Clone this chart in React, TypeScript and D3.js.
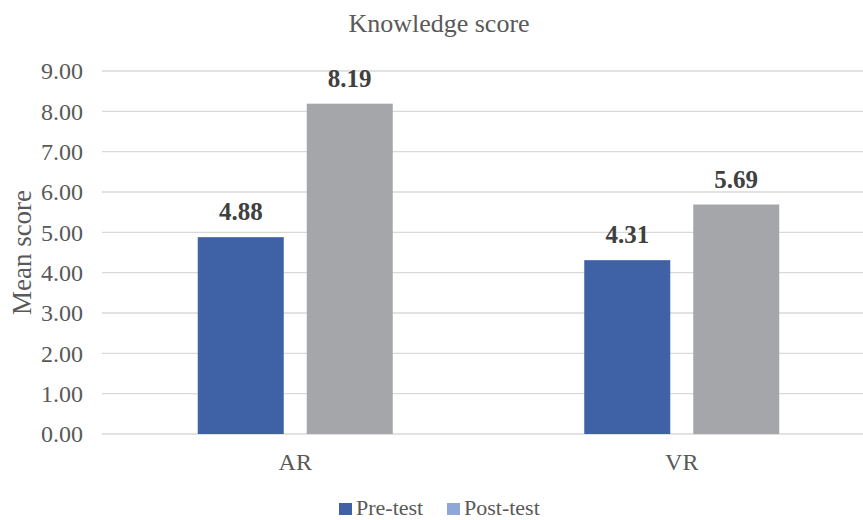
import React, { useEffect, useRef } from 'react';
import * as d3 from 'd3';

const categories = ['AR', 'VR'];
const seriesNames = ['Pre-test', 'Post-test'];
const preTest = [4.88, 4.31];
const postTest = [8.19, 5.69];
const yTicks = [0, 1, 2, 3, 4, 5, 6, 7, 8, 9];

const barColors = ['#3F62A6', '#A5A6AA'];
const legendColors = ['#3F62A6', '#8EA6D8'];

const App: React.FC = () => {
  const ref = useRef<SVGSVGElement>(null);

  useEffect(() => {
    const width = 863;
    const svg = d3.select(ref.current);
    svg.selectAll('*').remove();
    const font = "'Liberation Serif', 'Times New Roman', 'DejaVu Serif', serif";

    const left = 102;
    const top = 71;
    const bottom = 434;

    const data = categories.map((c, i) => ({ cat: c, values: [preTest[i], postTest[i]] }));

    const x0 = d3.scaleBand().domain(categories).range([left, 875]).padding(0);
    const x1 = d3.scaleBand().domain(seriesNames).range([0, 195]).paddingInner(0.211).paddingOuter(0);
    const y = d3.scaleLinear().domain([0, 9]).range([bottom, top]);

    // gridlines
    svg.append('g')
      .selectAll('line')
      .data(yTicks)
      .join('line')
      .attr('x1', left)
      .attr('x2', width)
      .attr('y1', d => y(d))
      .attr('y2', d => y(d))
      .attr('stroke', '#D9D9D9')
      .attr('stroke-width', 1.3);

    // y tick labels
    svg.append('g')
      .selectAll('text')
      .data(yTicks)
      .join('text')
      .attr('x', 83)
      .attr('y', d => y(d))
      .attr('dy', '0.35em')
      .attr('text-anchor', 'end')
      .style('font-family', font)
      .style('font-size', '24px')
      .attr('fill', '#595959')
      .text(d => d.toFixed(2));

    // bars
    const groups = svg.append('g')
      .selectAll('g')
      .data(data)
      .join('g')
      .attr('transform', d => `translate(${(x0(d.cat) || 0) + x0.bandwidth() / 2 - 97.5},0)`);

    groups.selectAll('rect')
      .data(d => d.values.map((v, i) => ({ key: seriesNames[i], v, i })))
      .join('rect')
      .attr('x', d => x1(d.key) || 0)
      .attr('y', d => y(d.v))
      .attr('width', x1.bandwidth())
      .attr('height', d => bottom - y(d.v))
      .attr('fill', d => barColors[d.i]);

    groups.selectAll('text')
      .data(d => d.values.map((v, i) => ({ key: seriesNames[i], v, i })))
      .join('text')
      .attr('x', d => (x1(d.key) || 0) + x1.bandwidth() / 2)
      .attr('y', d => y(d.v) - 17)
      .attr('text-anchor', 'middle')
      .style('font-family', font)
      .style('font-size', '25px')
      .style('font-weight', 'bold')
      .attr('fill', '#404040')
      .text(d => d.v.toFixed(2));

    // x labels
    svg.append('g')
      .selectAll('text')
      .data(categories)
      .join('text')
      .attr('x', d => (x0(d) || 0) + x0.bandwidth() / 2)
      .attr('y', 470)
      .attr('text-anchor', 'middle')
      .style('font-family', font)
      .style('font-size', '24px')
      .attr('fill', '#595959')
      .text(d => d);

    // title
    svg.append('text')
      .attr('x', 439)
      .attr('y', 32)
      .attr('text-anchor', 'middle')
      .style('font-family', font)
      .style('font-size', '26px')
      .attr('fill', '#595959')
      .text('Knowledge score');

    // y axis title
    svg.append('text')
      .attr('transform', `translate(31,${(top + bottom) / 2}) rotate(-90)`)
      .attr('text-anchor', 'middle')
      .style('font-family', font)
      .style('font-size', '27px')
      .attr('fill', '#595959')
      .text('Mean score');

    // legend
    const legendX = [339, 447];
    const legend = svg.append('g')
      .selectAll('g')
      .data(seriesNames)
      .join('g')
      .attr('transform', (d, i) => `translate(${legendX[i]},503)`);
    legend.append('rect')
      .attr('width', 13)
      .attr('height', 12)
      .attr('fill', (d, i) => legendColors[i]);
    legend.append('text')
      .attr('x', 17)
      .attr('y', 11.5)
      .style('font-family', font)
      .style('font-size', '22px')
      .attr('fill', '#595959')
      .text(d => d);
  }, []);

  return (
    <svg ref={ref} width={863} height={520} style={{ position: 'absolute', left: 0, top: 0, background: '#fff' }} />
  );
};

export default App;
